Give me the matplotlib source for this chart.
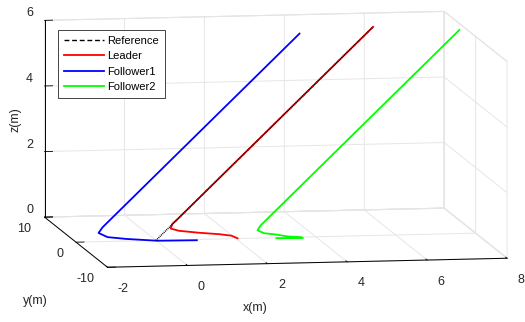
import matplotlib
matplotlib.use('Agg')
import matplotlib.pyplot as plt
from matplotlib.lines import Line2D
import numpy as np
from mpl_toolkits.mplot3d import proj3d

# trajectories (x, y, z)
ref_x = [0.0, 5.9]
ref_y = [0.0, 5.9]
ref_z = [0.0, 5.9]

lead_x = [2.05, 1.9, 1.6, 1.1, 0.6, 0.4, 0.45, 0.6, 5.9]
lead_y = [0.1, 0.15, 0.2, 0.3, 0.35, 0.4, 0.5, 0.6, 5.9]
lead_z = [0.0, 0.08, 0.13, 0.18, 0.25, 0.32, 0.45, 0.6, 5.9]

f1_x = [1.0, 0.0, -0.8, -1.3, -1.55, -1.45, 3.9]
f1_y = [-0.3, -0.4, -0.7, -1.1, -1.45, -1.45, 3.9]
f1_z = [0.0, 0.02, 0.12, 0.22, 0.38, 0.55, 5.9]

f2_x = [3.0, 3.65, 3.6, 3.25, 2.9, 2.6, 2.42, 2.5, 7.9]
f2_y = [-0.2, -0.35, -0.4, -0.65, -1.0, -1.35, -1.55, -1.5, 3.9]
f2_z = [0.0, 0.0, 0.03, 0.08, 0.18, 0.25, 0.36, 0.5, 5.9]

x_ticks = [-2, 0, 2, 4, 6, 8]
y_ticks = [-10, 0, 10]
z_ticks = [0, 2, 4, 6]

# where the box corners sit in the 525x322 picture (px from top-left)
box_corners = [(-2, 10, 0), (-2, -10, 0), (8, -10, 0), (8, 10, 0),
               (-2, 10, 6), (8, 10, 6), (8, -10, 6)]
box_pixels = [(44, 217), (107, 267), (507, 258), (444, 208),
              (45, 20), (445, 13), (507, 61)]

W, H = 525, 322
TXT = '#262626'
plt.rcParams['font.family'] = ['Liberation Sans', 'DejaVu Sans']
plt.rcParams['font.size'] = 9

fig = plt.figure(figsize=(W / 100, H / 100), dpi=100)
ax = fig.add_axes([0.1, 0.0, 0.8, 1.0], projection='3d', proj_type='ortho')
ax.computed_zorder = False
ax.view_init(elev=7.7, azim=-99.55)
ax.set_box_aspect((1.0, 0.936, 0.49))

lw = 1.3
ax.plot(lead_x, lead_y, lead_z, color='#ff0000', lw=lw, zorder=2)
# very fine dashes over the red line blend to the dark red seen in the picture
ax.plot(ref_x, ref_y, ref_z, color='black', lw=1.1, ls=(0, (0.6, 0.6)), zorder=3)
ax.plot(f1_x, f1_y, f1_z, color='#0000ff', lw=lw, zorder=2)
ax.plot(f2_x, f2_y, f2_z, color='#00ff00', lw=lw, zorder=2)

ax.set_xlim(-2, 8)
ax.set_ylim(-10, 10)
ax.set_zlim(0, 6)
ax.set_xticks(x_ticks)
ax.set_yticks(y_ticks)
ax.set_zticks(z_ticks)
ax.set_xticklabels([])
ax.set_yticklabels([])
ax.set_zticklabels([])

for axis in (ax.xaxis, ax.yaxis, ax.zaxis):
    axis.set_pane_color((1, 1, 1, 1))
    axis.pane.set_edgecolor('#dedede')
    axis.pane.set_linewidth(0.8)
    axis._axinfo['grid'].update(color='#e6e6e6', linewidth=0.7)
    axis._axinfo['tick']['inward_factor'] = 0.0
    axis._axinfo['tick']['outward_factor'] = 0.25
    axis._axinfo['tick']['linewidth'] = {True: 0.6, False: 0.5}
    axis.line.set_color('black')
    axis.line.set_linewidth(0.7)

handles = [Line2D([], [], color='black', lw=1.0, ls=(0, (3.5, 2))),
           Line2D([], [], color='#ff0000', lw=lw),
           Line2D([], [], color='#0000ff', lw=lw),
           Line2D([], [], color='#00ff00', lw=lw)]
labels = ['Reference', 'Leader', 'Follower1', 'Follower2']
leg = fig.legend(handles, labels, loc='upper left',
                 bbox_to_anchor=(58 / W, 1 - 30 / H), fontsize=8,
                 fancybox=False, edgecolor=TXT, framealpha=1,
                 borderpad=0.5, handlelength=3.6, handletextpad=0.35,
                 labelspacing=0.5, borderaxespad=0)
leg.get_frame().set_linewidth(0.6)

fig.text(255 / W, 1 - 308 / H, 'x(m)', ha='center', va='center', color=TXT)
fig.text(35 / W, 1 - 301 / H, 'y(m)', ha='center', va='center', color=TXT)
fig.text(15.5 / W, 1 - 120 / H, 'z(m)', ha='center', va='center', rotation=90, color=TXT)


def to_px(pts):
    cx, cy, cz = (np.array(c, float) for c in zip(*pts))
    px, py, _ = proj3d.proj_transform(cx, cy, cz, ax.get_proj())
    return ax.transData.transform(np.column_stack([px, py]))


# fit the axes position so the box lands where it is in the reference
fig.canvas.draw()
disp = to_px(box_corners)
tgt = np.array(box_pixels, float)
tgt[:, 1] = H - tgt[:, 1]
dm, gm = disp.mean(0), tgt.mean(0)
s = ((disp - dm) * (tgt - gm)).sum() / ((disp - dm) ** 2).sum()
t = gm - s * dm
bb = ax.get_position()
ax.set_position([(s * bb.x0 * W + t[0]) / W, (s * bb.y0 * H + t[1]) / H,
                 s * bb.width, s * bb.height])
fig.canvas.draw()

# MATLAB-style tick labels, offset from the tick points in pixels
for v, (px, py) in zip(x_ticks, to_px([(v, -10, 0) for v in x_ticks])):
    fig.text((px + 10.5) / W, (py - 21.5) / H, f'{v:d}', ha='left', va='center', color=TXT)
for v, (px, py) in zip(y_ticks, to_px([(-2, v, 0) for v in y_ticks])):
    fig.text((px - 13) / W, (py - 11.5) / H, f'{v:d}', ha='right', va='center', color=TXT)
for v, (px, py) in zip(z_ticks, to_px([(-2, 10, v) for v in z_ticks])):
    fig.text((px - 11.5) / W, (py + 7) / H, f'{v:d}', ha='right', va='center', color=TXT)

fig.savefig('out.png', dpi=100, facecolor='white')
